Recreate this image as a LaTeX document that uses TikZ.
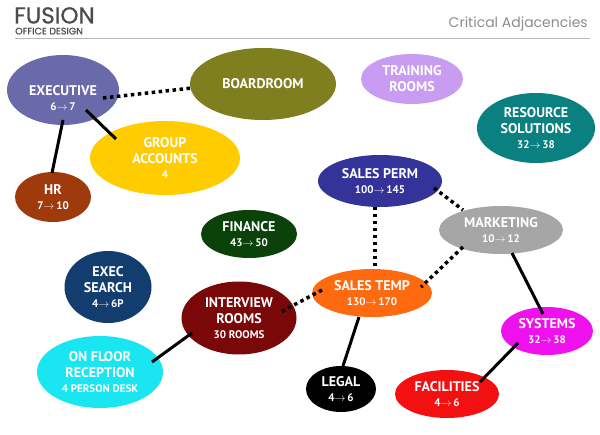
\documentclass[tikz,border=0pt]{standalone}
\usepackage{fontspec}
\setmainfont{PT Sans}
\newfontfamily\headfont{Poppins}
\newfontfamily\headfontb[FakeBold=0.8]{Poppins}
\usetikzlibrary{shapes.geometric}
\definecolor{execC}{HTML}{6A6AAA}
\definecolor{boardC}{HTML}{7F7F1F}
\definecolor{groupC}{HTML}{FFCC00}
\definecolor{hrC}{HTML}{9E3A0C}
\definecolor{trainC}{HTML}{C89CF0}
\definecolor{resC}{HTML}{0A8080}
\definecolor{finC}{HTML}{0A420A}
\definecolor{spermC}{HTML}{33339A}
\definecolor{mktC}{HTML}{A6A6A6}
\definecolor{stempC}{HTML}{FF6A10}
\definecolor{esC}{HTML}{123D6E}
\definecolor{intC}{HTML}{7A0808}
\definecolor{ofC}{HTML}{19E6F0}
\definecolor{legC}{HTML}{000000}
\definecolor{sysC}{HTML}{EE11EE}
\definecolor{facC}{HTML}{F21010}
\newcommand\myarr{$\rightarrow$\,}
\newcommand\mynum[1]{{\fontsize{11}{13}\selectfont #1}}
\tikzset{
  bub/.style={ellipse, draw=none, fill=#1, text=white, inner sep=0pt, align=center,
    font=\bfseries\fontsize{14}{16}\selectfont},
  bubtext/.style={text=white, inner sep=0pt, align=center,
    font=\bfseries\fontsize{14}{16}\selectfont},
  solidline/.style={line width=3pt, black},
  dotline/.style={line width=3.5pt, black, dash pattern=on 3.5pt off 3.5pt},
}
\begin{document}
\begin{tikzpicture}[x=1pt,y=-1pt]
\useasboundingbox (0,0) rectangle (600,435);
% header
\node[anchor=north west, inner sep=0pt, text=black!70, align=left, font=\headfontb\fontsize{9.5}{10}\selectfont] (logo) at (14,7)
  {{\fontsize{23}{23}\selectfont FUSION}\\[1pt]\hspace*{1pt}OFFICE DESIGN};
\node[anchor=base east, inner sep=0pt, text=black!45, font=\headfont\fontsize{14}{14}\selectfont] (crit) at (588,28) {Critical Adjacencies};
\coordinate (ruleA) at (15,38.5);
\coordinate (ruleB) at (590,38.5);
\draw[black!28, line width=0.8pt] (ruleA) -- (ruleB);
% nodes
\node[bub=execC, minimum width=112pt, minimum height=70pt] (exec) at (63,90) {};
\node[bubtext] (execT) at (63,98) {EXECUTIVE\\[-1pt]\mynum{6\myarr 7}};
\node[bub=boardC, minimum width=146pt, minimum height=72pt] (board) at (263,84) {BOARDROOM};
\node[bub=groupC, minimum width=150pt, minimum height=74pt] (group) at (165,158) {GROUP\\ACCOUNTS\\[-1pt]\mynum{4}};
\node[bub=hrC, minimum width=76pt, minimum height=50pt] (hr) at (53,197) {HR\\[-1pt]\mynum{7\myarr 10}};
\node[bub=trainC, minimum width=102pt, minimum height=50pt] (train) at (412,79) {TRAINING\\ROOMS};
\node[bub=resC, minimum width=118pt, minimum height=70pt] (res) at (536,128) {RESOURCE\\SOLUTIONS\\[-1pt]\mynum{32\myarr 38}};
\node[bub=finC, minimum width=96pt, minimum height=48pt] (fin) at (249,234) {FINANCE\\[-1pt]\mynum{43\myarr 50}};
\node[bub=spermC, minimum width=124pt, minimum height=52pt] (sperm) at (380,181) {SALES PERM\\[-1pt]\mynum{100\myarr 145}};
\node[bub=mktC, minimum width=124pt, minimum height=48pt] (mkt) at (501,230) {MARKETING\\[-1pt]\mynum{10\myarr 12}};
\node[bub=stempC, minimum width=120pt, minimum height=48pt] (stemp) at (372,293) {SALES TEMP\\[-1pt]\mynum{130\myarr 170}};
\node[bub=esC, minimum width=87pt, minimum height=72pt] (es) at (108,287) {EXEC\\SEARCH\\[-1pt]\mynum{4\myarr 6P}};
\node[bub=intC, minimum width=115pt, minimum height=73pt] (int) at (239,318) {INTERVIEW\\ROOMS\\[-1pt]\mynum{30 ROOMS}};
\node[bub=ofC, minimum width=126pt, minimum height=72pt] (of) at (100,372) {ON FLOOR\\RECEPTION\\[-1pt]\mynum{4 PERSON DESK}};
\node[bub=legC, minimum width=70pt, minimum height=46pt] (leg) at (341,389) {LEGAL\\[-1pt]\mynum{4\myarr 6}};
\node[bub=sysC, minimum width=92pt, minimum height=48pt] (sys) at (547,331) {SYSTEMS\\[-1pt]\mynum{32\myarr 38}};
\node[bub=facC, minimum width=104pt, minimum height=48pt] (fac) at (447,394) {FACILITIES\\[-1pt]\mynum{4\myarr 6}};
% connectors
\draw[dotline] ([shift={(40,8)}]exec.center) -- ([shift={(-71,4)}]board.center);
\draw[solidline] ([shift={(0,30)}]exec.center) -- ([shift={(-1,-24)}]hr.center);
\draw[solidline] ([shift={(23,20)}]exec.center) -- ([shift={(-49,-19)}]group.center);
\draw[dotline] ([shift={(54,7)}]sperm.center) -- ([shift={(-38,-20)}]mkt.center);
\draw[dotline] ([shift={(-5,26)}]sperm.center) -- ([shift={(3,-23)}]stemp.center);
\draw[dotline] ([shift={(-38,17)}]mkt.center) -- ([shift={(49,-6)}]stemp.center);
\draw[dotline] ([shift={(-50,-3)}]stemp.center) -- ([shift={(40,-5)}]int.center);
\draw[solidline] ([shift={(-47,15)}]int.center) -- ([shift={(52,-10)}]of.center);
\draw[solidline] ([shift={(-13,24)}]stemp.center) -- ([shift={(2,-23)}]leg.center);
\draw[solidline] ([shift={(11,23)}]mkt.center) -- ([shift={(-4,-17)}]sys.center);
\draw[solidline] ([shift={(-29,12)}]sys.center) -- ([shift={(33,-12)}]fac.center);
\end{tikzpicture}
\end{document}
